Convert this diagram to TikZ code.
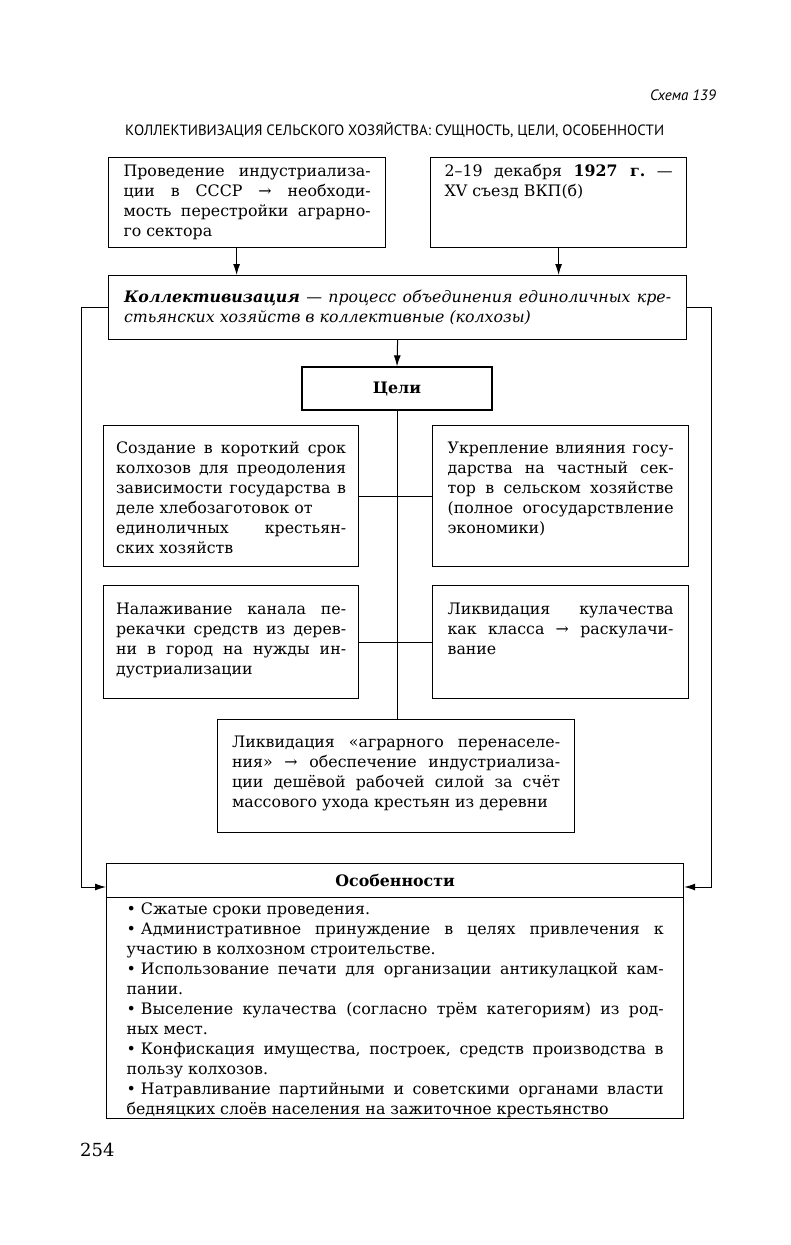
\documentclass[tikz,border=0pt]{standalone}
\usepackage{fontspec}
\setmainfont{DejaVu Serif}
\newfontfamily\tfont{PT Sans}
\usetikzlibrary{arrows.meta}
\frenchspacing
\newcommand\bt{\fontsize{15.8}{20}\selectfont}
\newcommand\tb[4]{\parbox[t][#1][t]{#2}{\bt\frenchspacing\hyphenpenalty=10000\exhyphenpenalty=0\tolerance=10000\emergencystretch=20pt\rule{0pt}{#3}#4}}
\newcommand\bul{•\hspace{0.32em}}
\begin{document}
\begin{tikzpicture}[x=1pt,y=-1pt,
  box/.style={draw, line width=1.2pt, anchor=north west, inner ysep=0pt},
  arr/.style={-{Latex[length=11pt,width=7pt]}, line width=1pt},
  ln/.style={line width=1pt}]
\useasboundingbox (0,0) rectangle (791,1245);
\node[anchor=east, inner sep=0pt, font=\tfont\itshape\fontsize{15}{18}\selectfont] (schema) at (716,95) {Схема 139};
\node[anchor=west, inner sep=0pt, font=\tfont\fontsize{14.9}{18}\selectfont] (title) at (125,130) {КОЛЛЕКТИВИЗАЦИЯ СЕЛЬСКОГО ХОЗЯЙСТВА: СУЩНОСТЬ, ЦЕЛИ, ОСОБЕННОСТИ};

\node[box, inner xsep=15pt] (b1) at (108,157) {\tb{90pt}{247pt}{19pt}{Проведение индустриализа-\linebreak ции в СССР → необходи-\linebreak мость перестройки аграрно-\linebreak го сектора}};
\node[box, inner xsep=14pt] (b2) at (430,157) {\tb{90pt}{228pt}{19pt}{2–19 декабря \textbf{1927 г.} —\linebreak XV съезд ВКП(б)}};

\node[box, inner xsep=15.5pt] (coll) at (108,275) {\tb{64pt}{547pt}{27pt}{\textbf{\textit{Коллективизация}} \textit{— процесс объединения единоличных кре-\linebreak стьянских хозяйств в коллективные (колхозы)}}};

\node[draw, line width=1.2pt, minimum width=190pt, minimum height=43pt, inner sep=0pt, font=\bt\bfseries] (celi) at (397,388.5) {Цели};

\node[box, inner xsep=12.5pt] (g1) at (103,425) {\tb{141pt}{230pt}{28pt}{Создание в короткий срок\linebreak колхозов для преодоления\linebreak зависимости государства в\linebreak деле хлебозаготовок от\newline единоличных крестьян-\linebreak ских хозяйств}};
\node[box, inner xsep=15pt] (g2) at (432,425) {\tb{141pt}{226pt}{28pt}{Укрепление влияния госу-\linebreak дарства на частный сек-\linebreak тор в сельском хозяйстве\linebreak (полное огосударствление\linebreak экономики)}};
\node[box, inner xsep=12.5pt] (g3) at (103,585) {\tb{113pt}{230pt}{29pt}{Налаживание канала пе-\linebreak рекачки средств из дерев-\linebreak ни в город на нужды ин-\linebreak дустриализации}};
\node[box, inner xsep=15pt] (g4) at (432,585) {\tb{113pt}{226pt}{29pt}{Ликвидация кулачества\linebreak как класса → раскулачи-\linebreak вание}};
\node[box, inner xsep=14.5pt] (g5) at (217,719) {\tb{113pt}{328pt}{28pt}{Ликвидация «аграрного перенаселе-\linebreak ния» → обеспечение индустриализа-\linebreak ции дешёвой рабочей силой за счёт\linebreak массового ухода крестьян из деревни}};

\node[draw, line width=1.2pt, anchor=north west, minimum width=577pt, minimum height=34pt, inner sep=0pt, font=\bt\bfseries] (osobh) at (106,863) {Особенности};
\node[box, inner xsep=20pt] (osobb) at (106,897) {\tb{221pt}{537pt}{17pt}{\bul Сжатые сроки проведения.\newline
\bul Административное принуждение в целях привлечения к\linebreak участию в колхозном строительстве.\newline
\bul Использование печати для организации антикулацкой кам-\linebreak пании.\newline
\bul Выселение кулачества (согласно трём категориям) из род-\linebreak ных мест.\newline
\bul Конфискация имущества, построек, средств производства в\linebreak пользу колхозов.\newline
\bul Натравливание партийными и советскими органами власти\linebreak бедняцких слоёв населения на зажиточное крестьянство}};

\node[anchor=west, inner sep=0pt, font=\fontsize{18}{20}\selectfont] (page) at (80,1150) {254};

\draw[arr] ([xshift=-10.5pt]b1.south) -- ([xshift=-10.5pt]b1.south |- coll.north);
\draw[arr] (b2.south) -- (b2.south |- coll.north);
\draw[arr] (coll.south) -- (celi.north);
\draw[ln] (celi.south) -- (celi.south |- g5.north);
\draw[ln] (g1.east) -- (g2.west);
\draw[ln] (g3.east) -- (g4.west);
\coordinate (lc) at (81,887);
\coordinate (rc) at (711,887);
\draw[arr] (coll.west) -| (lc) -- (lc -| osobh.west);
\draw[arr] (coll.east) -| (rc) -- (rc -| osobh.east);
\end{tikzpicture}
\end{document}
